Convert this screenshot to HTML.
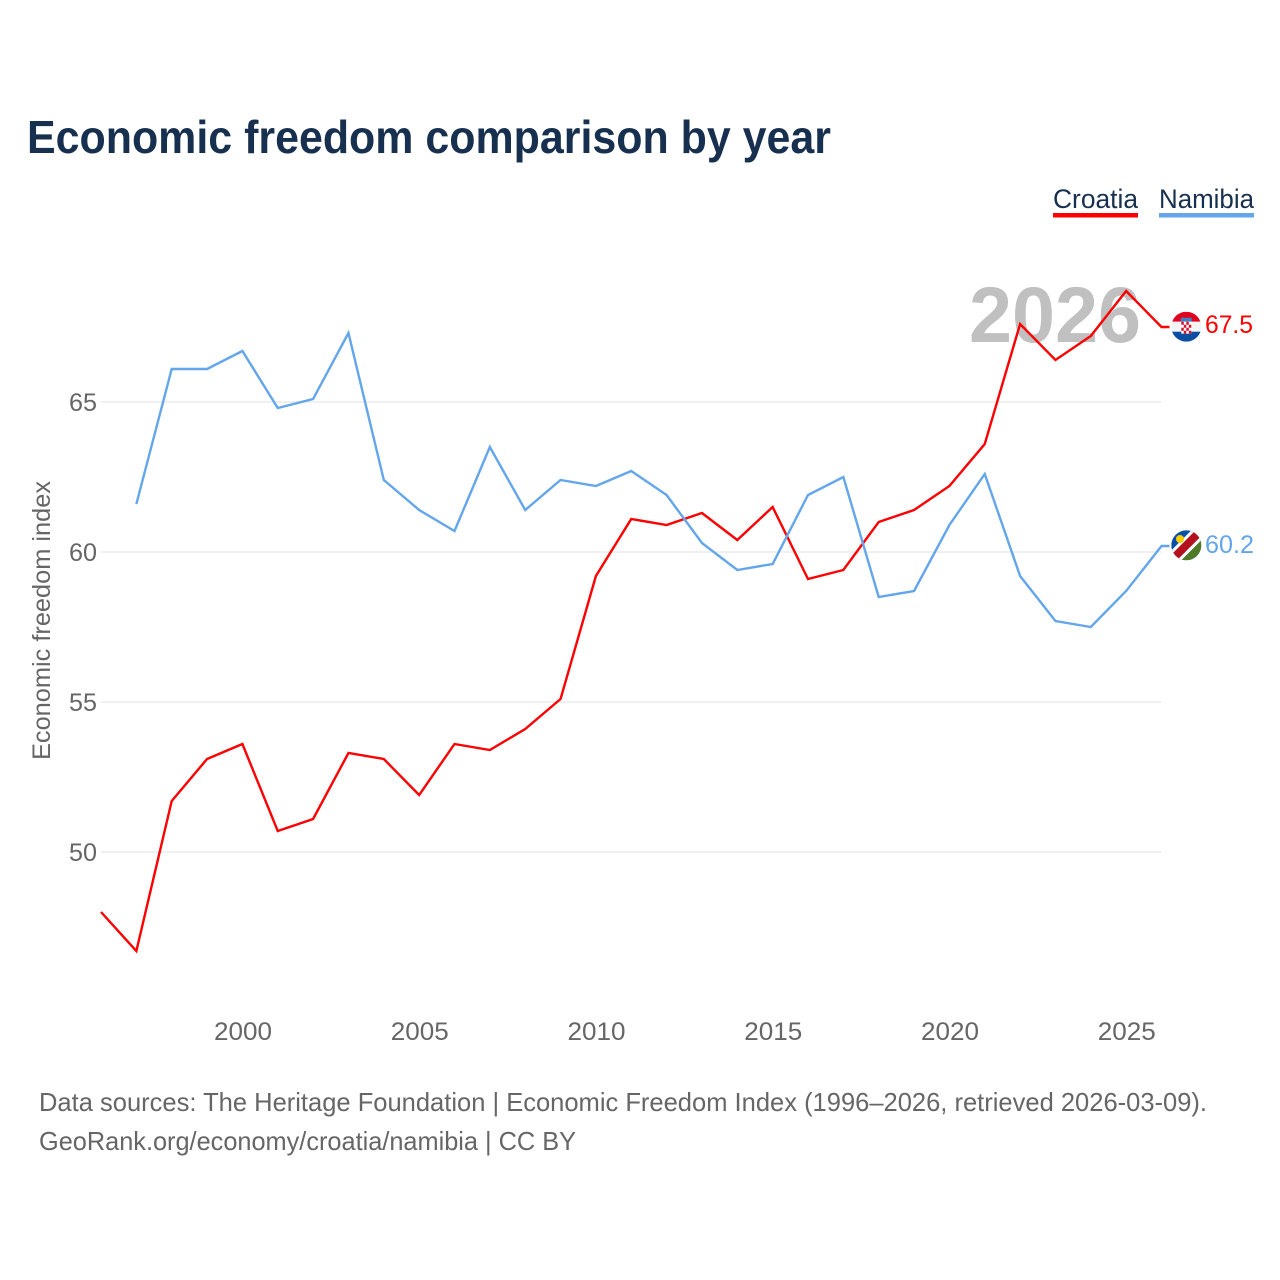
<!DOCTYPE html>
<html lang="en">
<head>
<meta charset="utf-8">
<title>Economic freedom comparison by year</title>
<style>
html,body{margin:0;padding:0;background:#fff}
svg{display:block}
text{font-family:"Liberation Sans",sans-serif}
</style>
</head>
<body>
<svg id="chart" width="1280" height="1280" viewBox="0 0 1280 1280" xmlns="http://www.w3.org/2000/svg">
  <defs>
    <clipPath id="flag-clip"><circle cx="0" cy="0" r="15"/></clipPath>
  </defs>
  <rect width="1280" height="1280" fill="#fff"/>
  <text x="27" y="153" font-size="46" font-weight="700" fill="#18304f" textLength="804" lengthAdjust="spacingAndGlyphs">Economic freedom comparison by year</text>

  <g>
    <text x="1053" y="208" font-size="27" fill="#18304f" textLength="85" lengthAdjust="spacingAndGlyphs">Croatia</text>
    <rect x="1053" y="213" width="85" height="4.5" fill="#ff0000"/>
    <text x="1159" y="208" font-size="27" fill="#18304f" textLength="95" lengthAdjust="spacingAndGlyphs">Namibia</text>
    <rect x="1159" y="213" width="95" height="4.5" fill="#63a6eb"/>
  </g>

  <g id="grid"></g>
  <g id="y-ticks"></g>
  <g id="x-ticks"></g>
  <text transform="translate(50,620.5) rotate(-90)" text-anchor="middle" font-size="25" fill="#666" textLength="279" lengthAdjust="spacingAndGlyphs">Economic freedom index</text>
  <text id="year-label" x="969" y="342" font-size="79" font-weight="700" fill="#c0c0c0" textLength="172" lengthAdjust="spacingAndGlyphs"></text>
  <g id="series"></g>

  <g id="flag-croatia">
    <g clip-path="url(#flag-clip)">
      <rect x="-15" y="-15" width="30" height="10" fill="#e1001f"/>
      <rect x="-15" y="-5" width="30" height="10" fill="#f4f4f4"/>
      <rect x="-15" y="5" width="30" height="10" fill="#0b4ea2"/>
      <rect x="-5.5" y="-9" width="11" height="4" fill="#3f7fc4"/>
      <rect x="-5" y="-5" width="10" height="12" fill="#fff"/>
      <path d="M-5-5h2.500v3h-2.500zM0-5h2.500v3h-2.500zM-2.500-2h2.500v3h-2.500zM2.500-2h2.500v3h-2.500zM-5 1h2.500v3h-2.500zM0 1h2.500v3h-2.500zM-2.500 4h2.500v3h-2.500zM2.500 4h2.500v3h-2.500z" fill="#d8102c"/>
    </g>
  </g>
  <g id="flag-namibia">
    <g clip-path="url(#flag-clip)">
      <rect x="-15" y="-15" width="30" height="30" fill="#0a50a8"/>
      <path d="M15-15V15H-15z" fill="#4f7a28"/>
      <path d="M-15 15L15-15" stroke="#fff" stroke-width="14"/>
      <path d="M-15 15L15-15" stroke="#b5101e" stroke-width="8"/>
      <circle cx="-6.300" cy="-6.300" r="4" fill="#ffce00"/>
    </g>
  </g>
  <g id="end-labels"></g>

  <g>
    <text x="39" y="1111" font-size="26" fill="#666" textLength="1168" lengthAdjust="spacingAndGlyphs">Data sources: The Heritage Foundation | Economic Freedom Index (1996–2026, retrieved 2026-03-09).</text>
    <text x="39" y="1150" font-size="26" fill="#666" textLength="537" lengthAdjust="spacingAndGlyphs">GeoRank.org/economy/croatia/namibia | CC BY</text>
  </g>
</svg>
<script>
const years = [1996,1997,1998,1999,2000,2001,2002,2003,2004,2005,2006,2007,2008,2009,2010,2011,2012,2013,2014,2015,2016,2017,2018,2019,2020,2021,2022,2023,2024,2025,2026];
const croatiaValues = [48.0,46.7,51.7,53.1,53.6,50.7,51.1,53.3,53.1,51.9,53.6,53.4,54.1,55.1,59.2,61.1,60.9,61.3,60.4,61.5,59.1,59.4,61.0,61.4,62.2,63.6,67.6,66.4,67.2,68.7,67.5];
const namibiaValues = [null,61.6,66.1,66.1,66.7,64.8,65.1,67.3,62.4,61.4,60.7,63.5,61.4,62.4,62.2,62.7,61.9,60.3,59.4,59.6,61.9,62.5,58.5,58.7,60.9,62.6,59.2,57.7,57.5,58.7,60.2];
const yTickValues = [50,55,60,65];
const xTickValues = [2000,2005,2010,2015,2020,2025];

const NS = 'http://www.w3.org/2000/svg';
function xScale(year){ return 242.4 + (year - 2000) * 35.35; }
function yScale(v){ return 552 - (v - 60) * 30; }
const xLeft = xScale(years[0]);
const xRight = xScale(years[years.length - 1]);
const stubEnd = xRight + 8;

function svgEl(tag, attrs, parent, content){
  const el = document.createElementNS(NS, tag);
  for (const k in attrs) el.setAttribute(k, attrs[k]);
  if (content !== undefined) el.textContent = content;
  parent.appendChild(el);
  return el;
}

const grid = document.getElementById('grid');
const yTicks = document.getElementById('y-ticks');
yTickValues.forEach(function(v){
  const line = svgEl('line', {x1:xLeft, x2:xRight, y1:yScale(v), y2:yScale(v), stroke:'#ebebeb', 'stroke-width':1.6}, grid);
  
  
  const label = svgEl('text', {x:97, y:yScale(v)+9, 'text-anchor':'end', 'font-size':25, fill:'#666', textLength:28, lengthAdjust:'spacingAndGlyphs'}, yTicks, String(v));
  
  
});

const xTicks = document.getElementById('x-ticks');
xTickValues.forEach(function(y){
  const label = svgEl('text', {x:xScale(y)+0.6, y:1040, 'text-anchor':'middle', 'font-size':25, fill:'#666', textLength:58, lengthAdjust:'spacingAndGlyphs'}, xTicks, String(y));
  
  
});

function linePath(values){
  let d = '';
  values.forEach(function(v, i){
    if (v === null) return;
    d += (d ? 'L' : 'M') + xScale(years[i]).toFixed(2) + ' ' + yScale(v).toFixed(2);
  });
  d += 'L' + stubEnd.toFixed(2) + ' ' + yScale(values[values.length - 1]).toFixed(2);
  return d;
}

const series = document.getElementById('series');
const croatiaLine = svgEl('path', {d:linePath(croatiaValues), fill:'none', stroke:'#ff0000', 'stroke-width':2.4, 'stroke-linejoin':'miter'}, series);


const namibiaLine = svgEl('path', {d:linePath(namibiaValues), fill:'none', stroke:'#63a6eb', 'stroke-width':2.4, 'stroke-linejoin':'miter'}, series);



document.getElementById('year-label').textContent = String(years[years.length - 1]);

const croatiaLast = croatiaValues[croatiaValues.length - 1];
const namibiaLast = namibiaValues[namibiaValues.length - 1];
document.getElementById('flag-croatia').setAttribute('transform', 'translate(1186.3,' + (yScale(croatiaLast) - 0.3) + ')');
document.getElementById('flag-namibia').setAttribute('transform', 'translate(1186.3,' + (yScale(namibiaLast) - 0.7) + ')');

const endLabels = document.getElementById('end-labels');
const croatiaEnd = svgEl('text', {x:1205, y:yScale(croatiaLast)+6, 'font-size':25, fill:'#ff0000', textLength:48, lengthAdjust:'spacingAndGlyphs'}, endLabels, croatiaLast.toFixed(1));


const namibiaEnd = svgEl('text', {x:1205, y:yScale(namibiaLast)+7, 'font-size':25, fill:'#63a6eb', textLength:49, lengthAdjust:'spacingAndGlyphs'}, endLabels, namibiaLast.toFixed(1));


</script>
</body>
</html>
